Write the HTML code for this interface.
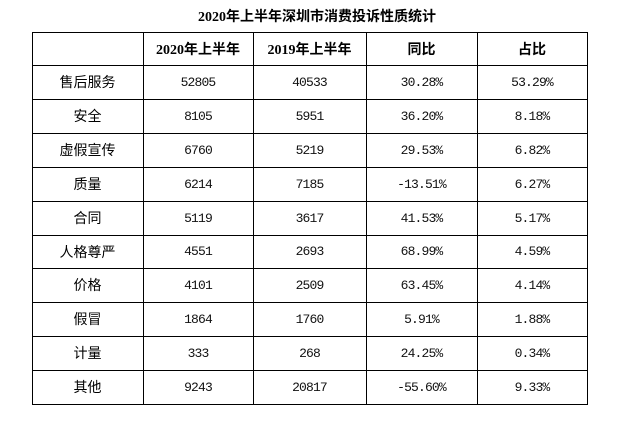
<!DOCTYPE html>
<html><head><meta charset="utf-8">
<style>
html,body{margin:0;padding:0;background:#fff;}
body{width:634px;height:424px;position:relative;overflow:hidden;}
.h{position:absolute;left:32px;width:556px;height:1px;background:#000;}
.v{position:absolute;top:32px;height:373px;width:1px;background:#000;}
.c{position:absolute;display:flex;align-items:center;justify-content:center;white-space:nowrap;color:#000;}
.t{position:absolute;left:0;width:634px;top:8px;height:20px;text-align:center;font:bold 14px "Liberation Serif","Noto Sans CJK SC",serif;line-height:20px;}
.hd{font:bold 14px "Liberation Serif","Noto Sans CJK SC",serif;}
.lb{font:14px "Liberation Sans","Noto Sans CJK SC",sans-serif;}
.n{font:13px "Liberation Mono",monospace;letter-spacing:-0.85px;color:#111;}
</style></head><body>
<div class="t">2020年上半年深圳市消费投诉性质统计</div>

<div class="h" style="top:32px"></div>
<div class="h" style="top:65px"></div>
<div class="h" style="top:99px"></div>
<div class="h" style="top:133px"></div>
<div class="h" style="top:167px"></div>
<div class="h" style="top:201px"></div>
<div class="h" style="top:235px"></div>
<div class="h" style="top:268px"></div>
<div class="h" style="top:302px"></div>
<div class="h" style="top:336px"></div>
<div class="h" style="top:370px"></div>
<div class="h" style="top:404px"></div>

<div class="v" style="left:32px"></div>
<div class="v" style="left:143px"></div>
<div class="v" style="left:253px"></div>
<div class="v" style="left:366px"></div>
<div class="v" style="left:477px"></div>
<div class="v" style="left:587px"></div>

<!-- header -->
<div class="c hd" style="left:143px;top:32px;width:110px;height:33px">2020年上半年</div>
<div class="c hd" style="left:253px;top:32px;width:113px;height:33px">2019年上半年</div>
<div class="c hd" style="left:366px;top:32px;width:111px;height:33px">同比</div>
<div class="c hd" style="left:477px;top:32px;width:110px;height:33px">占比</div>

<div class="c lb" style="left:32px;top:65px;width:111px;height:34px">售后服务</div>
<div class="c n" style="left:143px;top:65px;width:110px;height:34px">52805</div>
<div class="c n" style="left:253px;top:65px;width:113px;height:34px">40533</div>
<div class="c n" style="left:366px;top:65px;width:111px;height:34px">30.28%</div>
<div class="c n" style="left:477px;top:65px;width:110px;height:34px">53.29%</div>

<div class="c lb" style="left:32px;top:99px;width:111px;height:34px">安全</div>
<div class="c n" style="left:143px;top:99px;width:110px;height:34px">8105</div>
<div class="c n" style="left:253px;top:99px;width:113px;height:34px">5951</div>
<div class="c n" style="left:366px;top:99px;width:111px;height:34px">36.20%</div>
<div class="c n" style="left:477px;top:99px;width:110px;height:34px">8.18%</div>

<div class="c lb" style="left:32px;top:133px;width:111px;height:34px">虚假宣传</div>
<div class="c n" style="left:143px;top:133px;width:110px;height:34px">6760</div>
<div class="c n" style="left:253px;top:133px;width:113px;height:34px">5219</div>
<div class="c n" style="left:366px;top:133px;width:111px;height:34px">29.53%</div>
<div class="c n" style="left:477px;top:133px;width:110px;height:34px">6.82%</div>

<div class="c lb" style="left:32px;top:167px;width:111px;height:34px">质量</div>
<div class="c n" style="left:143px;top:167px;width:110px;height:34px">6214</div>
<div class="c n" style="left:253px;top:167px;width:113px;height:34px">7185</div>
<div class="c n" style="left:366px;top:167px;width:111px;height:34px">-13.51%</div>
<div class="c n" style="left:477px;top:167px;width:110px;height:34px">6.27%</div>

<div class="c lb" style="left:32px;top:201px;width:111px;height:34px">合同</div>
<div class="c n" style="left:143px;top:201px;width:110px;height:34px">5119</div>
<div class="c n" style="left:253px;top:201px;width:113px;height:34px">3617</div>
<div class="c n" style="left:366px;top:201px;width:111px;height:34px">41.53%</div>
<div class="c n" style="left:477px;top:201px;width:110px;height:34px">5.17%</div>

<div class="c lb" style="left:32px;top:235px;width:111px;height:33px">人格尊严</div>
<div class="c n" style="left:143px;top:235px;width:110px;height:33px">4551</div>
<div class="c n" style="left:253px;top:235px;width:113px;height:33px">2693</div>
<div class="c n" style="left:366px;top:235px;width:111px;height:33px">68.99%</div>
<div class="c n" style="left:477px;top:235px;width:110px;height:33px">4.59%</div>

<div class="c lb" style="left:32px;top:268px;width:111px;height:34px">价格</div>
<div class="c n" style="left:143px;top:268px;width:110px;height:34px">4101</div>
<div class="c n" style="left:253px;top:268px;width:113px;height:34px">2509</div>
<div class="c n" style="left:366px;top:268px;width:111px;height:34px">63.45%</div>
<div class="c n" style="left:477px;top:268px;width:110px;height:34px">4.14%</div>

<div class="c lb" style="left:32px;top:302px;width:111px;height:34px">假冒</div>
<div class="c n" style="left:143px;top:302px;width:110px;height:34px">1864</div>
<div class="c n" style="left:253px;top:302px;width:113px;height:34px">1760</div>
<div class="c n" style="left:366px;top:302px;width:111px;height:34px">5.91%</div>
<div class="c n" style="left:477px;top:302px;width:110px;height:34px">1.88%</div>

<div class="c lb" style="left:32px;top:336px;width:111px;height:34px">计量</div>
<div class="c n" style="left:143px;top:336px;width:110px;height:34px">333</div>
<div class="c n" style="left:253px;top:336px;width:113px;height:34px">268</div>
<div class="c n" style="left:366px;top:336px;width:111px;height:34px">24.25%</div>
<div class="c n" style="left:477px;top:336px;width:110px;height:34px">0.34%</div>

<div class="c lb" style="left:32px;top:370px;width:111px;height:34px">其他</div>
<div class="c n" style="left:143px;top:370px;width:110px;height:34px">9243</div>
<div class="c n" style="left:253px;top:370px;width:113px;height:34px">20817</div>
<div class="c n" style="left:366px;top:370px;width:111px;height:34px">-55.60%</div>
<div class="c n" style="left:477px;top:370px;width:110px;height:34px">9.33%</div>
</body></html>
